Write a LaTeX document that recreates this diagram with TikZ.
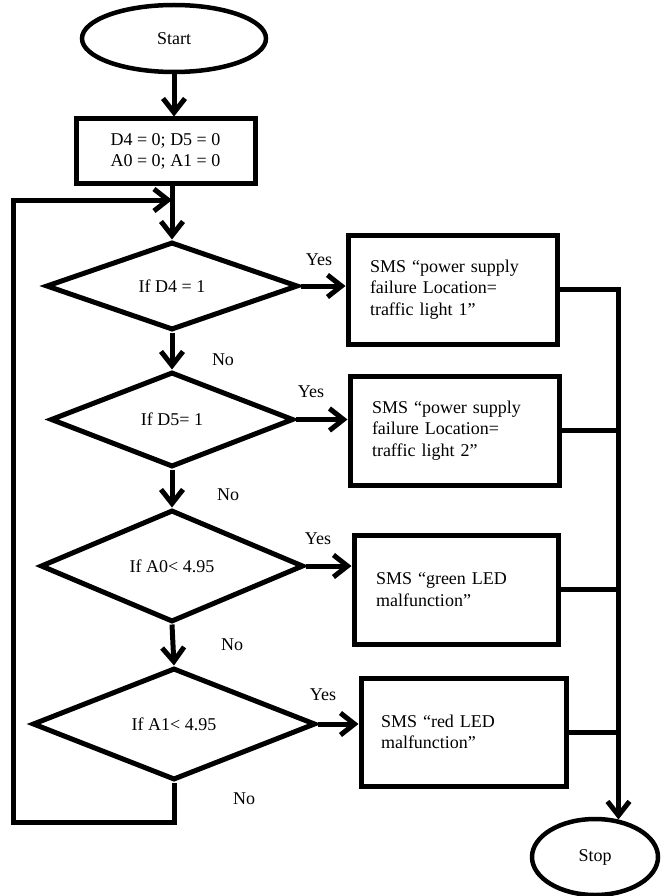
\documentclass[tikz,border=0pt]{standalone}
\usepackage{fontspec}
\setmainfont{Liberation Serif}
\usetikzlibrary{shapes.geometric,arrows.meta}
\begin{document}
\begin{tikzpicture}[x=1pt,y=-1pt,
  every node/.style={font=\fontsize{18}{21.5}\selectfont},
  lw/.style={line width=5pt},
  arr/.style={lw,-{Straight Barb[length=14pt,width=22pt]}},
  term/.style={ellipse,draw,line width=4.5pt,inner sep=0pt},
  dec/.style={diamond,draw,lw,inner sep=0pt},
  proc/.style={rectangle,draw,lw,inner xsep=22pt,inner ysep=0pt,align=left},
  lbl/.style={inner sep=0pt}]
\useasboundingbox (0,0) rectangle (666,896);
% terminals
\node[term,minimum width=184pt,minimum height=67pt] (start) at (174,38.5) {Start};
\node[term,minimum width=126pt,minimum height=76pt] (stop) at (595,857) {Stop};
% init
\node[draw,lw,minimum width=179pt,minimum height=65pt,align=center,inner sep=0pt] (init) at (165.5,151.5) {D4 = 0; D5 = 0\\A0 = 0; A1 = 0};
% decisions
\node[dec,minimum width=252pt,minimum height=88pt] (d1) at (172,286) {If D4 = 1};
\node[dec,minimum width=243pt,minimum height=95pt] (d2) at (172,419.5) {If D5= 1};
\node[dec,minimum width=263pt,minimum height=112pt] (d3) at (172,566) {If A0< 4.95};
\node[dec,minimum width=283pt,minimum height=112pt] (d4) at (174,724) {If A1< 4.95};
% processes
\node[proc,text width=165pt,minimum height=109pt] (b1) at (452.5,289.5) {SMS “power supply\\failure Location=\\traffic light 1”};
\node[proc,text width=165pt,minimum height=109pt] (b2) at (454.5,430.5) {SMS “power supply\\failure Location=\\traffic light 2”};
\node[proc,text width=160pt,minimum height=109pt] (b3) at (456,589.5) {SMS “green LED\\malfunction”};
\node[proc,inner xsep=20pt,text width=165pt,minimum height=108pt] (b4) at (463.5,732) {SMS “red LED\\malfunction”};
% labels
\node[lbl] (y1) at (319,260) {Yes};
\node[lbl] (n1) at (223,360) {No};
\node[lbl] (y2) at (311,392) {Yes};
\node[lbl] (n2) at (228,495) {No};
\node[lbl] (y3) at (318,539) {Yes};
\node[lbl] (n3) at (232,645) {No};
\node[lbl] (y4) at (323,695) {Yes};
\node[lbl] (n4) at (244,799) {No};
% coordinates
\coordinate (j) at (172,200);
\coordinate (lt) at (13,200);
\coordinate (lb) at (13,822);
% connectors
\draw[arr] (start.south) -- (start.south |- init.north);
\draw[arr] (init.south -| j) -- (d1.north);
\draw[arr] (d4.south) -- (d4.south |- lb) -- (lb) -- (lt) -- (j);
\draw[arr] (d1.south) -- (d2.north);
\draw[arr] (d2.south) -- (d3.north);
\draw[arr] (d3.south) -- (d4.north);
\draw[arr] (d1.east) -- (d1.east -| b1.west);
\draw[arr] (d2.east) -- (d2.east -| b2.west);
\draw[arr] (d3.east) -- (d3.east -| b3.west);
\draw[arr] (d4.east) -- (d4.east -| b4.west);
\draw[arr] (b1.east) -| (stop.58);
\draw[lw] (b2.east) -- (b2.east -| stop.58);
\draw[lw] (b3.east) -- (b3.east -| stop.58);
\draw[lw] (b4.east) -- (b4.east -| stop.58);
\end{tikzpicture}
\end{document}
